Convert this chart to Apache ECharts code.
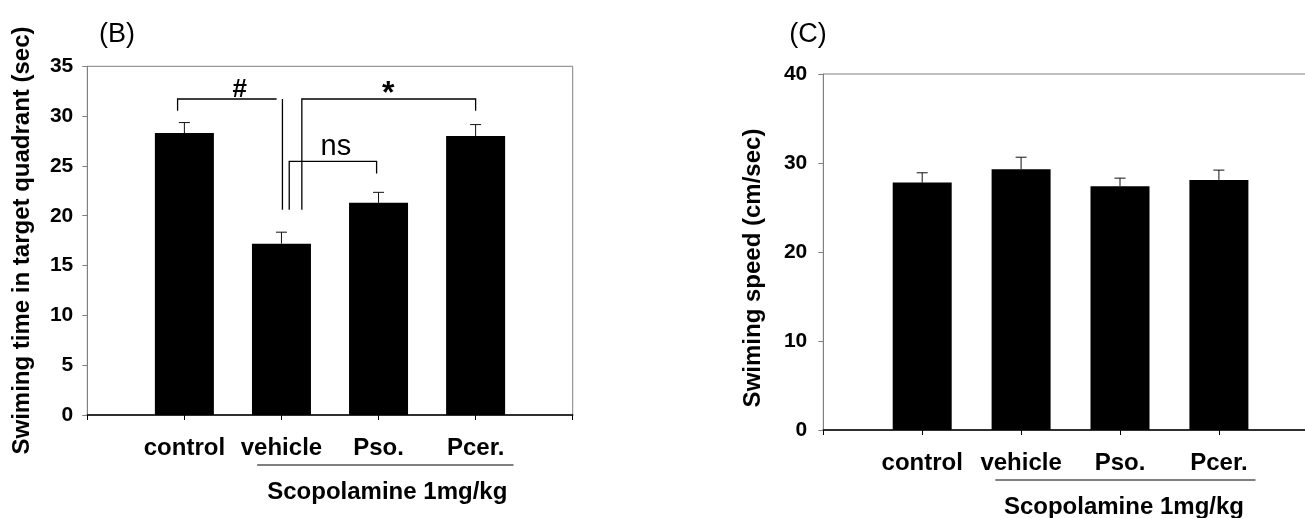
<!DOCTYPE html>
<html><head><meta charset="utf-8">
<script src="https://cdn.jsdelivr.net/npm/echarts/dist/echarts.min.js"></script>
<style>html,body{margin:0;padding:0;background:#fff}#c{width:1305px;height:518px}</style>
</head><body><div id="c"></div>
<script>
// ---- data ----
const categories = ['control', 'vehicle', 'Pso.', 'Pcer.'];
const groupLabel = 'Scopolamine 1mg/kg';
const timeMeans = [28.3, 17.2, 21.3, 28.0];
const timeErrors = [1.05, 1.15, 1.05, 1.15];
const speedMeans = [27.8, 29.3, 27.4, 28.1];
const speedErrors = [1.1, 1.35, 0.9, 1.1];
const timeAxisTicks = [0, 5, 10, 15, 20, 25, 30, 35];
const speedAxisTicks = [0, 10, 20, 30, 40];
const timeTitle = 'Swiming time in target quadrant (sec)';
const speedTitle = 'Swiming speed (cm/sec)';
// significance brackets (data coords of left chart)
const hashBracket = [[0.93, 30.55], [0.93, 31.72], [1.95, 31.72]];
const vehicleLine = [[2.01, 31.72], [2.01, 20.6]];
const nsBracket = [[2.08, 20.6], [2.08, 25.45], [2.98, 25.45], [2.98, 24.25]];
const starBracket = [[2.21, 20.6], [2.21, 31.72], [4.0, 31.72], [4.0, 30.55]];
const sigTexts = ['#', '*', 'ns'];
const sigPositions = [[1.57, 32.6], [3.1, 32.2], [2.56, 26.85]];
// group underline spans [start, end, textCenter]
const leftGroupSpan = [1.75, 4.39, 3.09];
const rightGroupSpan = [1.74, 4.37, 3.04];

// ---- chart ----
const FONT = '"Liberation Sans", Arial, Helvetica, sans-serif';
const chart = echarts.init(document.getElementById('c'));
const brackets = [hashBracket, vehicleLine, nsBracket, starBracket];
const sigStyles = [
  {fontSize: 26, fontWeight: 'bold'},
  {fontSize: 32, fontWeight: 'bold'},
  {fontSize: 29, fontWeight: 'normal'}
];

function xAxisCfg(gridIndex) {
  return {
    type: 'value', gridIndex, min: 0, max: 5, interval: 1,
    splitLine: {show: false},
    axisLine: {show: true, lineStyle: {color: '#000', width: 1.5}},
    axisTick: {show: true, length: 5, lineStyle: {color: '#000', width: 1}},
    axisLabel: {
      show: true, margin: 21, color: '#000', fontSize: 24, fontWeight: 'bold', fontFamily: FONT,
      formatter: v => categories[v - 1] || ''
    }
  };
}
function yAxisCfg(gridIndex, ticks, margin) {
  return {
    type: 'value', gridIndex, min: ticks[0], max: ticks[ticks.length - 1],
    interval: ticks[1] - ticks[0],
    splitLine: {show: false},
    axisLine: {show: true, lineStyle: {color: '#808080', width: 1}},
    axisTick: {show: true, length: 5, lineStyle: {color: '#808080', width: 1}},
    axisLabel: {margin, color: '#000', fontSize: 21, fontWeight: 'bold', fontFamily: FONT}
  };
}
function barSeries(idx, means) {
  return {
    type: 'bar', xAxisIndex: idx, yAxisIndex: idx, barWidth: 59,
    data: means.map((m, i) => [i + 1, m]),
    itemStyle: {color: '#000'}, silent: true
  };
}
function errSeries(idx, means, errs) {
  return {
    type: 'custom', xAxisIndex: idx, yAxisIndex: idx, silent: true, z: 3,
    data: means.map((m, i) => [i + 1, m, errs[i]]),
    renderItem: (params, api) => {
      const x = api.value(0), y = api.value(1), e = api.value(2);
      const p0 = api.coord([x, y]), p1 = api.coord([x, y + e]);
      const hw = 5.5, st = {stroke: '#111', lineWidth: 1};
      return {type: 'group', children: [
        {type: 'line', shape: {x1: p0[0], y1: p0[1], x2: p1[0], y2: p1[1]}, style: st},
        {type: 'line', shape: {x1: p1[0] - hw, y1: p1[1], x2: p1[0] + hw, y2: p1[1]}, style: st}
      ]};
    }
  };
}
function groupSeries(idx, span) {
  return {
    type: 'custom', xAxisIndex: idx, yAxisIndex: idx, silent: true,
    data: [span],
    renderItem: (params, api) => {
      const a = api.coord([api.value(0), 0]);
      const b = api.coord([api.value(1), 0]);
      const c = api.coord([api.value(2), 0]);
      return {type: 'group', children: [
        {type: 'line', shape: {x1: a[0], y1: a[1] + 50, x2: b[0], y2: b[1] + 50},
         style: {stroke: '#000', lineWidth: 1.2}},
        {type: 'text', x: c[0], y: c[1] + 77,
         style: {text: groupLabel, fill: '#000', font: 'bold 24px ' + FONT,
                 textAlign: 'center', textVerticalAlign: 'middle'}}
      ]};
    }
  };
}

const option = {
  animation: false,
  backgroundColor: '#fff',
  grid: [
    {left: 87.3, top: 66.3, width: 485.4, height: 348.7, show: true,
     borderColor: '#808080', borderWidth: 1, backgroundColor: 'transparent',
     containLabel: false, outerBoundsMode: 'none'},
    {left: 823.3, top: 74, width: 494.5, height: 356, show: true,
     borderColor: '#808080', borderWidth: 1, backgroundColor: 'transparent',
     containLabel: false, outerBoundsMode: 'none'}
  ],
  xAxis: [xAxisCfg(0), xAxisCfg(1)],
  yAxis: [yAxisCfg(0, timeAxisTicks, 14), yAxisCfg(1, speedAxisTicks, 16)],
  graphic: [
    {type: 'text', x: 117, y: 35, style: {text: '(B)', fill: '#000', font: '27px ' + FONT,
      textAlign: 'center', textVerticalAlign: 'middle'}},
    {type: 'text', x: 808, y: 35, style: {text: '(C)', fill: '#000', font: '27px ' + FONT,
      textAlign: 'center', textVerticalAlign: 'middle'}},
    {type: 'text', x: 22, y: 240.5, rotation: Math.PI / 2,
      style: {text: timeTitle, fill: '#000', font: 'bold 24px ' + FONT,
      textAlign: 'center', textVerticalAlign: 'middle'}},
    {type: 'text', x: 753, y: 268, rotation: Math.PI / 2,
      style: {text: speedTitle, fill: '#000', font: 'bold 24px ' + FONT,
      textAlign: 'center', textVerticalAlign: 'middle'}}
  ],
  series: [
    barSeries(0, timeMeans),
    errSeries(0, timeMeans, timeErrors),
    barSeries(1, speedMeans),
    errSeries(1, speedMeans, speedErrors),
    {
      type: 'custom', xAxisIndex: 0, yAxisIndex: 0, silent: true,
      data: brackets.map((b, i) => [i]),
      renderItem: (params, api) => {
        const pts = brackets[params.dataIndex].map(p => api.coord(p));
        return {type: 'polyline', shape: {points: pts},
          style: {stroke: '#000', lineWidth: 1.3, fill: null}};
      }
    },
    {
      type: 'custom', xAxisIndex: 0, yAxisIndex: 0, silent: true,
      data: sigPositions.map((p, i) => [p[0], p[1], i]),
      renderItem: (params, api) => {
        const i = params.dataIndex;
        const p = api.coord([api.value(0), api.value(1)]);
        const s = sigStyles[i];
        return {type: 'text', x: p[0], y: p[1],
          style: {text: sigTexts[i], fill: '#000',
            font: s.fontWeight + ' ' + s.fontSize + 'px ' + FONT,
            textAlign: 'center', textVerticalAlign: 'middle'}};
      }
    },
    groupSeries(0, leftGroupSpan),
    groupSeries(1, rightGroupSpan)
  ]
};
chart.setOption(option);
</script>
</body></html>
